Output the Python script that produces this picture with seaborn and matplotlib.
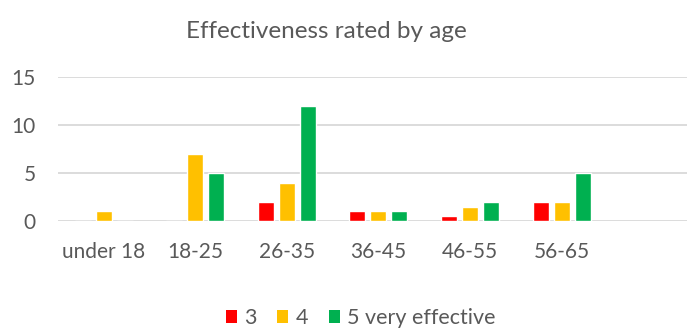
import matplotlib
matplotlib.use("Agg")
import matplotlib.pyplot as plt
import seaborn as sns
import pandas as pd
from matplotlib.patches import Patch

categories = ["under 18", "18-25", "26-35", "36-45", "46-55", "56-65"]
series_names = ["3", "4", "5 very effective"]
vals_3 = [0, 0, 2, 1, 0.5, 2]
vals_4 = [1, 7, 4, 1, 1.5, 2]
vals_5 = [0, 5, 12, 1, 2, 5]
colors = ["#FF0000", "#FFC000", "#00B050"]
yticks = [0, 5, 10, 15]

rows = []
for name, vals in zip(series_names, [vals_3, vals_4, vals_5]):
    for c, v in zip(categories, vals):
        rows.append({"age": c, "rating": name, "count": v})
df = pd.DataFrame(rows)

sns.set_theme(style="white")
plt.rcParams['font.family'] = ['Lato', 'DejaVu Sans']
txt = "#595959"

fig = plt.figure(figsize=(6.87, 3.29), dpi=100)
ax = fig.add_axes([58/687, 1 - 221/329, 1 - 58/687, (221 - 77)/329])

sns.barplot(data=df, x="age", y="count", hue="rating", order=categories,
            hue_order=series_names, palette=colors, width=0.687, gap=0.236,
            saturation=1, ax=ax, legend=False, zorder=3)

ax.set_xlim(-0.5, 6.37)
ax.set_ylim(0, 15)
ax.set_yticks(yticks)
ax.yaxis.grid(True, color="#D9D9D9", linewidth=1.3, zorder=0)
ax.set_axisbelow(True)
for s in ax.spines.values():
    s.set_visible(False)
ax.tick_params(axis="both", length=0, colors=txt, labelsize=15)
ax.tick_params(axis="x", pad=15)
ax.tick_params(axis="y", pad=16)
ax.set_xlabel("")
ax.set_ylabel("")

fig.text(326/687, 1 - 31/329, "Effectiveness rated by age", ha="center", va="center",
         fontsize=17.5, color=txt)

handles = [Patch(facecolor=c, edgecolor="none") for c in colors]
fig.legend(handles, series_names, loc="center", bbox_to_anchor=(361/687, 1 - 318/329),
           ncol=3, frameon=False, fontsize=15.5, labelcolor=txt, handlelength=0.51,
           handleheight=0.51, handletextpad=0.35, columnspacing=0.95)

fig.savefig("out.png", dpi=100)
